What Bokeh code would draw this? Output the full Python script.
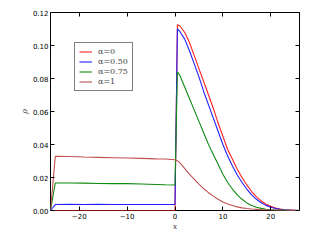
from bokeh.plotting import figure
from bokeh.models import Range1d, LinearAxis, FixedTicker, Legend, LegendItem, CustomLabelingPolicy
from bokeh.embed import file_html
from bokeh.resources import INLINE

# shared x grid
x_left = [-26, -25, -22, -19, -16, -13, -10, -7, -4, -2, 0]
x_right = [0.5, 1, 2, 3, 4, 5, 6, 7, 8, 9, 10, 11, 12, 13, 14, 15, 16, 17,
           18, 19, 20, 21, 22, 23, 24, 25, 26]

# alpha = 0
rho_a0_left = [0, 0, 0, 0, 0, 0, 0, 0, 0, 0, 0]
rho_a0_right = [0.1126, 0.112, 0.108, 0.102, 0.094, 0.086, 0.078, 0.070, 0.062,
                0.053, 0.045, 0.037, 0.031, 0.025, 0.020, 0.0155, 0.0115, 0.0083,
                0.0058, 0.0038, 0.0025, 0.0015, 0.0009, 0.0005, 0.0003, 0.0001, 0.0]
# alpha = 0.50
rho_a50_left = [0, 0.0036, 0.0038, 0.0036, 0.0037, 0.0036, 0.0036, 0.0036, 0.0036, 0.0036, 0.0036]
rho_a50_right = [0.110, 0.1085, 0.104, 0.097, 0.089, 0.081, 0.072, 0.064, 0.056,
                 0.048, 0.040, 0.033, 0.027, 0.0215, 0.017, 0.013, 0.0095, 0.0068,
                 0.0047, 0.0031, 0.0020, 0.0012, 0.0007, 0.0004, 0.0002, 0.0001, 0.0]
# alpha = 0.75
rho_a75_left = [0, 0.0167, 0.0167, 0.0166, 0.0164, 0.0163, 0.0163, 0.0161, 0.0158, 0.0156, 0.0155]
rho_a75_right = [0.084, 0.082, 0.075, 0.068, 0.061, 0.054, 0.047, 0.040, 0.034,
                 0.028, 0.022, 0.017, 0.013, 0.0095, 0.0068, 0.0046, 0.0030, 0.0020,
                 0.0013, 0.0008, 0.0005, 0.0003, 0.0002, 0.0001, 0.0, 0.0, 0.0]
# alpha = 1
rho_a1_left = [0, 0.0328, 0.0327, 0.0324, 0.0322, 0.0320, 0.0318, 0.0316, 0.0313, 0.0312, 0.0308]
rho_a1_right = [0.0302, 0.029, 0.0255, 0.022, 0.019, 0.016, 0.0132, 0.0108, 0.0087,
                0.0068, 0.0052, 0.0040, 0.0030, 0.0022, 0.0016, 0.0012, 0.0009, 0.0007,
                0.0005, 0.0004, 0.0003, 0.00025, 0.0002, 0.00015, 0.0001, 0.00005, 0.0]

labels = ["\u03b1=0", "\u03b1=0.50", "\u03b1=0.75", "\u03b1=1"]
colors = ["#ff2020", "#2020ff", "#108a10", "#c05050"]

x_ticks = [-20, -10, 0, 10, 20]
y_ticks = [0.0, 0.02, 0.04, 0.06, 0.08, 0.10, 0.12]

W, H = 316, 233
p = figure(width=W, height=H, output_backend="svg", toolbar_location=None,
           x_range=Range1d(-26, 26), y_range=Range1d(0, 0.12))
p.min_border_left = 50
p.min_border_right = W - 299
p.min_border_top = 12
p.min_border_bottom = H - 211
p.grid.visible = False
p.outline_line_color = "black"
p.outline_line_width = 1
p.background_fill_color = "white"
p.border_fill_color = "white"

xs = x_left + x_right
series = [rho_a0_left + rho_a0_right, rho_a50_left + rho_a50_right,
          rho_a75_left + rho_a75_right, rho_a1_left + rho_a1_right]
renderers = []
for ys, c in zip(series, colors):
    r = p.line(xs, ys, line_color=c, line_width=1.1)
    renderers.append(r)

for ax in p.xaxis:
    ax.ticker = FixedTicker(ticks=x_ticks)
    ax.major_label_overrides = {t: ("\u2212%d" % -t if t < 0 else "%d" % t) for t in x_ticks}
for ax in p.yaxis:
    ax.ticker = FixedTicker(ticks=y_ticks)
    ax.major_label_overrides = {t: "%.2f" % t for t in y_ticks}

for ax in p.xaxis + p.yaxis:
    ax.major_tick_in = 4
    ax.major_tick_out = 0
    ax.minor_tick_line_color = None
    ax.axis_line_color = None
    ax.major_label_text_font = "DejaVu Sans"
    ax.major_label_text_font_size = "7px"
    ax.major_label_text_color = "black"
    ax.major_label_standoff = 2
    ax.axis_label_text_font = "DejaVu Serif"
    ax.axis_label_text_font_style = "italic"
    ax.axis_label_text_font_size = "8px"
    ax.axis_label_standoff = 0

p.xaxis.axis_label = "x"
p.yaxis.axis_label = "\u03c1"
p.yaxis.axis_label_standoff = 1

hide_all = CustomLabelingPolicy(code="""
    for (const i of indices)
        indices.unset(i)
    return indices
""")
hide_all2 = CustomLabelingPolicy(code="""
    for (const i of indices)
        indices.unset(i)
    return indices
""")
top = LinearAxis(ticker=FixedTicker(ticks=x_ticks), major_tick_in=4, major_tick_out=0,
                 minor_tick_line_color=None, axis_line_color=None,
                 major_label_policy=hide_all, major_label_standoff=0,
                 major_label_text_font_size="7px")
right = LinearAxis(ticker=FixedTicker(ticks=y_ticks), major_tick_in=4, major_tick_out=0,
                   minor_tick_line_color=None, axis_line_color=None,
                   major_label_policy=hide_all2, major_label_standoff=0,
                   major_label_text_font_size="7px")
p.add_layout(top, "above")
p.add_layout(right, "right")

legend = Legend(items=[LegendItem(label=l, renderers=[r]) for l, r in zip(labels, renderers)],
                location=(24, 119))
legend.label_text_font = "DejaVu Serif"
legend.label_text_font_size = "8px"
legend.glyph_width = 13
legend.glyph_height = 9
legend.label_height = 9
legend.label_standoff = 6
legend.spacing = 1
legend.padding = 4
legend.margin = 0
legend.border_line_color = "black"
legend.border_line_width = 1
legend.background_fill_alpha = 1
p.add_layout(legend, "center")

open("out.html", "w").write(file_html(p, INLINE))
